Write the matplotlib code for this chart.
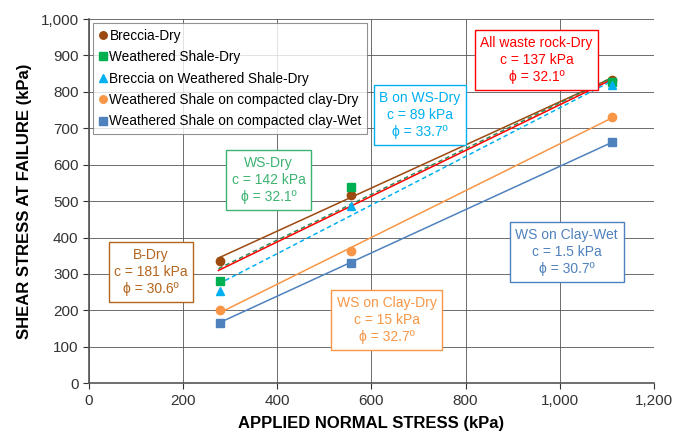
import numpy as np
import matplotlib
matplotlib.use("Agg")
import matplotlib.pyplot as plt
from matplotlib.ticker import FuncFormatter

plt.rcParams["font.family"] = ["Liberation Sans", "DejaVu Sans"]

normal_stress = [278, 556, 1111]
series_names = [
    "Breccia-Dry",
    "Weathered Shale-Dry",
    "Breccia on Weathered Shale-Dry",
    "Weathered Shale on compacted clay-Dry",
    "Weathered Shale on compacted clay-Wet",
]
breccia_dry = [335, 517, 833]
ws_dry = [280, 540, 828]
b_on_ws_dry = [252, 487, 820]
ws_clay_dry = [200, 362, 730]
ws_clay_wet = [165, 330, 662]

# fitted strength envelopes (cohesion kPa, friction angle deg)
fit_labels = ["B-Dry", "WS-Dry", "All waste rock-Dry", "B on WS-Dry", "WS on Clay-Dry", "WS on Clay-Wet"]
fit_c = [181, 142, 137, 89, 15, 1.5]
fit_phi = [30.6, 32.1, 32.1, 33.7, 32.7, 30.7]
fit_x = [275, 1111]

brown = "#9C4A0F"
green = "#00B050"
cyan = "#00B0F0"
orange = "#F79646"
blue = "#4F81BD"
red = "#FF0000"

fig, ax = plt.subplots(figsize=(6.74, 4.32), dpi=100)
fig.subplots_adjust(left=0.132, right=0.970, bottom=0.113, top=0.956)

# fit lines
line_styles = [
    (brown, "-"), ("#2E8B57", (0, (3, 2))), (red, "-"), (cyan, (0, (3, 2))), (orange, "-"), (blue, "-"),
]
for c, phi, (col, ls) in zip(fit_c, fit_phi, line_styles):
    xs = np.array(fit_x)
    ys = c + xs * np.tan(np.radians(phi))
    ax.plot(xs, ys, color=col, linestyle=ls, linewidth=1.1, zorder=3)

ax.plot(normal_stress, breccia_dry, "o", color=brown, markersize=6, label=series_names[0], zorder=4)
ax.plot(normal_stress, ws_dry, "s", color=green, markersize=6, label=series_names[1], zorder=4)
ax.plot(normal_stress, b_on_ws_dry, "^", color=cyan, markersize=6, label=series_names[2], zorder=4)
ax.plot(normal_stress, ws_clay_dry, "o", color=orange, markersize=6, label=series_names[3], zorder=4)
ax.plot(normal_stress, ws_clay_wet, "s", color=blue, markersize=6, label=series_names[4], zorder=4)

# annotation boxes
box_pos = [(132, 305), (382, 558), (951, 887), (703, 736), (633, 173), (1015, 360)]
box_col = ["#B5651D", "#3CB371", red, cyan, orange, blue]
for lab, c, phi, (bx, by), col in zip(fit_labels, fit_c, fit_phi, box_pos, box_col):
    txt = f"{lab}\nc = {c:g} kPa\nϕ = {phi:.1f}º"
    ax.text(bx, by, txt, color=col, fontsize=10, ha="center", va="center", linespacing=1.3,
            bbox=dict(boxstyle="square,pad=0.4", fc="white", ec=col, lw=1.0), zorder=6)

ax.set_xlim(0, 1200)
ax.set_ylim(0, 1000)
ax.set_xticks(np.arange(0, 1201, 200))
ax.set_yticks(np.arange(0, 1001, 100))
fmt = FuncFormatter(lambda v, p: f"{int(v):,}")
ax.xaxis.set_major_formatter(fmt)
ax.yaxis.set_major_formatter(fmt)
ax.tick_params(labelsize=11, colors="#333333", direction="out", length=4)
ax.grid(True, color="#555555", linewidth=0.6)
ax.set_axisbelow(True)
for s in ["top", "right"]:
    ax.spines[s].set_visible(False)
for s in ["left", "bottom"]:
    ax.spines[s].set_color("#555555")
    ax.spines[s].set_linewidth(1.2)

ax.set_xlabel("APPLIED NORMAL STRESS (kPa)", fontsize=12, fontweight="bold", labelpad=6)
ax.set_ylabel("SHEAR STRESS AT FAILURE (kPa)", fontsize=12, fontweight="bold", labelpad=6)

leg = ax.legend(loc="upper left", fontsize=9.8, handlelength=0.6, handletextpad=0.2,
                markerscale=0.9, frameon=True, fancybox=False, edgecolor="#777777",
                borderaxespad=0.3, labelspacing=0.55)
leg.get_frame().set_linewidth(0.8)
leg.set_zorder(5)

fig.savefig("out.png", dpi=100)
